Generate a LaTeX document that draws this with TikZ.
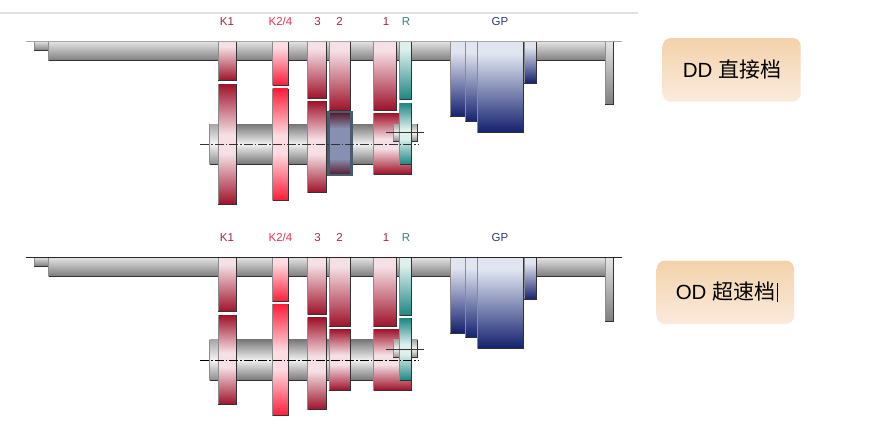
\documentclass[tikz,border=0pt]{standalone}
\usepackage{fontspec}
\setmainfont{Liberation Sans}
\newfontfamily\cjk{Noto Sans CJK SC}
\definecolor{rdk}{HTML}{9E1229}
\definecolor{rlt}{HTML}{F5E0E5}
\definecolor{brt}{HTML}{FF1C38}
\definecolor{blt}{HTML}{FFDCE1}
\definecolor{tdk}{HTML}{1C8682}
\definecolor{tlt}{HTML}{DDF0EE}
\definecolor{ndk}{HTML}{13216E}
\definecolor{nlt}{HTML}{E1E5F0}
\definecolor{ovdk}{HTML}{54182A}
\definecolor{ovlt}{HTML}{8790B0}
\definecolor{ovbd}{HTML}{4A5C6C}
\definecolor{sA}{HTML}{E6E6E6}
\definecolor{sB}{HTML}{7E7E7E}
\definecolor{aA}{HTML}{F2F2F2}
\definecolor{aB}{HTML}{777777}
\definecolor{edgeD}{HTML}{333333}
\definecolor{edgeL}{HTML}{8C8C8C}
\definecolor{gA}{HTML}{F3D2AA}
\definecolor{gB}{HTML}{FBEBDD}
\definecolor{lR}{HTML}{A32A3C}
\definecolor{lB}{HTML}{E8354C}
\definecolor{lT}{HTML}{3A7F80}
\definecolor{lN}{HTML}{2F3C80}
\newcommand\mkup[3]{\pgfdeclareverticalshading{#1}{100bp}{color(0bp)=(#2); color(25bp)=(#2); color(68bp)=(#3); color(75bp)=(#3); color(100bp)=(#3)}}
\newcommand\mklow[3]{\pgfdeclareverticalshading{#1}{100bp}{color(0bp)=(#2); color(25bp)=(#2); color(46bp)=(#3); color(54bp)=(#3); color(75bp)=(#2); color(100bp)=(#2)}}
\mkup{redupS}{rdk}{rlt}
\mklow{redlowS}{rdk}{rlt}
\mkup{brightupS}{brt}{blt}
\mklow{brightlowS}{brt}{blt}
\mkup{tealupS}{tdk}{tlt}
\mklow{teallowS}{tdk}{tlt}
\mkup{navyS}{ndk}{nlt}
\pgfdeclareverticalshading{overS}{100bp}{color(0bp)=(ovdk); color(25bp)=(ovdk); color(38bp)=(ovlt); color(62bp)=(ovlt); color(75bp)=(ovdk); color(100bp)=(ovdk)}
\pgfdeclareverticalshading{shaftS}{100bp}{color(0bp)=(sB); color(25bp)=(sB); color(75bp)=(sA); color(100bp)=(sA)}
\pgfdeclareverticalshading{axleS}{100bp}{color(0bp)=(aB); color(25bp)=(aB); color(50bp)=(aA); color(75bp)=(aB); color(100bp)=(aB)}
\tikzset{
  shaftfill/.style={shading=shaftS},
  axlefill/.style={shading=axleS},
  stubfill/.style={top color=black!35,bottom color=black!45,middle color=black!4},
  redup/.style={shading=redupS},
  redlow/.style={shading=redlowS},
  brightup/.style={shading=brightupS},
  brightlow/.style={shading=brightlowS},
  tealup/.style={shading=tealupS},
  teallow/.style={shading=teallowS},
  navy/.style={shading=navyS},
  over/.style={shading=overS},
  lab/.style={font=\fontsize{11.5}{12}\selectfont,inner sep=0pt,anchor=center},
  lred/.style={lab,text=lR},
  lbright/.style={lab,text=lB},
  lteal/.style={lab,text=lT},
  lnavy/.style={lab,text=lN},
  axisline/.style={edgeD,line width=0.7pt,dash pattern=on 9pt off 2pt on 1.5pt off 2pt},
  capbox/.style={rounded corners=8pt,top color=gA,bottom color=gB},
  captext/.style={inner sep=0pt,anchor=center,text=black},
}
% shaded bar with grey left edge and dark right and bottom edges
\newcommand\bx[5]{%
  \shade[#1] (#2,#3) rectangle (#4,#5);
  \draw[edgeL,line width=0.8pt] (#2,#5)--(#2,#3);
  \draw[edgeD,line width=0.8pt] (#2,#5)--(#4,#5)--(#4,#3);
}
\begin{document}
\begin{tikzpicture}[x=1pt,y=-1pt]
\useasboundingbox (0,0) rectangle (870,424);
\fill[white] (0,0) rectangle (870,424);
\draw[black!12,line width=1.2pt] (0,13) -- (638,13);

% ---------- upper panel ----------
\foreach \t/\sty/\xx in {K1/lred/227,K2\slash 4/lbright/280.5,3/lred/317.5,2/lred/339.5,1/lred/386,R/lteal/406,GP/lnavy/500}
  \node[\sty] at (\xx,21.5) {\t};
\bx{stubfill}{209.5}{124}{218}{164}
\bx{axlefill}{218}{124}{374}{164}
\bx{shaftfill}{34}{41}{48.5}{50.5}
\bx{shaftfill}{48.5}{41}{605}{60.5}
\bx{shaftfill}{605}{41}{613}{104.5}
\bx{redup}{218}{41}{236.5}{80.5}
\bx{redlow}{218}{84}{236.5}{204}
\bx{brightup}{272.5}{41}{288}{85}
\bx{brightlow}{272.5}{88.5}{288}{200}
\bx{redup}{307.5}{41}{326.5}{98.5}
\bx{redlow}{307.5}{101}{326.5}{192.5}
\bx{redup}{329}{41}{350.5}{110.5}
\shade[over] (328.5,112) rectangle (351.5,175);
\draw[ovbd,line width=2.4pt] (328.5,112) rectangle (351.5,175);
\bx{redup}{373.5}{41}{396.5}{110}
\bx{redlow}{373.5}{113}{411.5}{174}
\bx{stubfill}{393}{124}{417.5}{141}
\bx{tealup}{399.5}{41}{411.5}{99.5}
\bx{teallow}{399.5}{103}{411.5}{164.5}
\bx{navy}{450}{41}{465}{116.5}
\bx{navy}{465}{41}{477.5}{121.5}
\bx{navy}{477.5}{41}{523.5}{132.5}
\bx{navy}{524}{41}{536}{83}
\draw[black!35,line width=1pt] (26,41) -- (622,41);
\draw[axisline] (200,144.3) -- (418,144.3);
\draw[edgeD,line width=0.6pt] (386,132) -- (424,132);

% ---------- lower panel ----------
\foreach \t/\sty/\xx in {K1/lred/227,K2\slash 4/lbright/280.5,3/lred/317.5,2/lred/339.5,1/lred/386,R/lteal/406,GP/lnavy/500}
  \node[\sty] at (\xx,237.5) {\t};
\bx{stubfill}{209.5}{339.5}{218}{380.3}
\bx{axlefill}{218}{339.5}{374}{380.3}
\bx{shaftfill}{34}{257}{48.5}{266}
\bx{shaftfill}{48.5}{257}{605}{276}
\bx{shaftfill}{605}{257}{613}{321}
\bx{redup}{218}{257}{236.5}{311.7}
\bx{redlow}{218}{315}{236.5}{404.5}
\bx{brightup}{272.5}{257}{288}{301.5}
\bx{brightlow}{272.5}{304.3}{288}{415.7}
\bx{redup}{307.5}{257}{326.5}{314.3}
\bx{redlow}{307.5}{317.7}{326.5}{409.7}
\bx{redup}{329}{257}{350.5}{326.3}
\bx{redlow}{329}{329}{350.5}{390.3}
\bx{redup}{373.5}{257}{396.5}{326.5}
\bx{redlow}{373.5}{329}{411.5}{390.3}
\bx{stubfill}{393}{339.5}{417.5}{357.7}
\bx{tealup}{399.5}{257}{411.5}{315.7}
\bx{teallow}{399.5}{318.3}{411.5}{380.3}
\bx{navy}{450}{257}{465}{333}
\bx{navy}{465}{257}{477.5}{337.3}
\bx{navy}{477.5}{257}{523.5}{348.3}
\bx{navy}{524}{257}{536}{299.7}
\draw[black!85,line width=1pt] (26,257) -- (622,257);
\draw[axisline,black,line width=1pt] (200,360) -- (418,360);
\draw[edgeD,line width=0.6pt] (386,349.3) -- (424,349.3);

% ---------- captions ----------
\shade[capbox] (662.7,38) rectangle (800.7,101.7);
\node[captext] (dd) at (732,70) {\fontsize{20.5}{22}\selectfont DD \cjk\fontsize{21}{22}\selectfont 直接档};
\shade[capbox] (656.7,260.7) rectangle (794,324);
\node[captext] (od) at (725.5,291.7) {\fontsize{20.5}{22}\selectfont OD \cjk\fontsize{21}{22}\selectfont 超速档};
\draw[black,line width=0.7pt] (777.5,283) -- (777.5,302);
\end{tikzpicture}
\end{document}
